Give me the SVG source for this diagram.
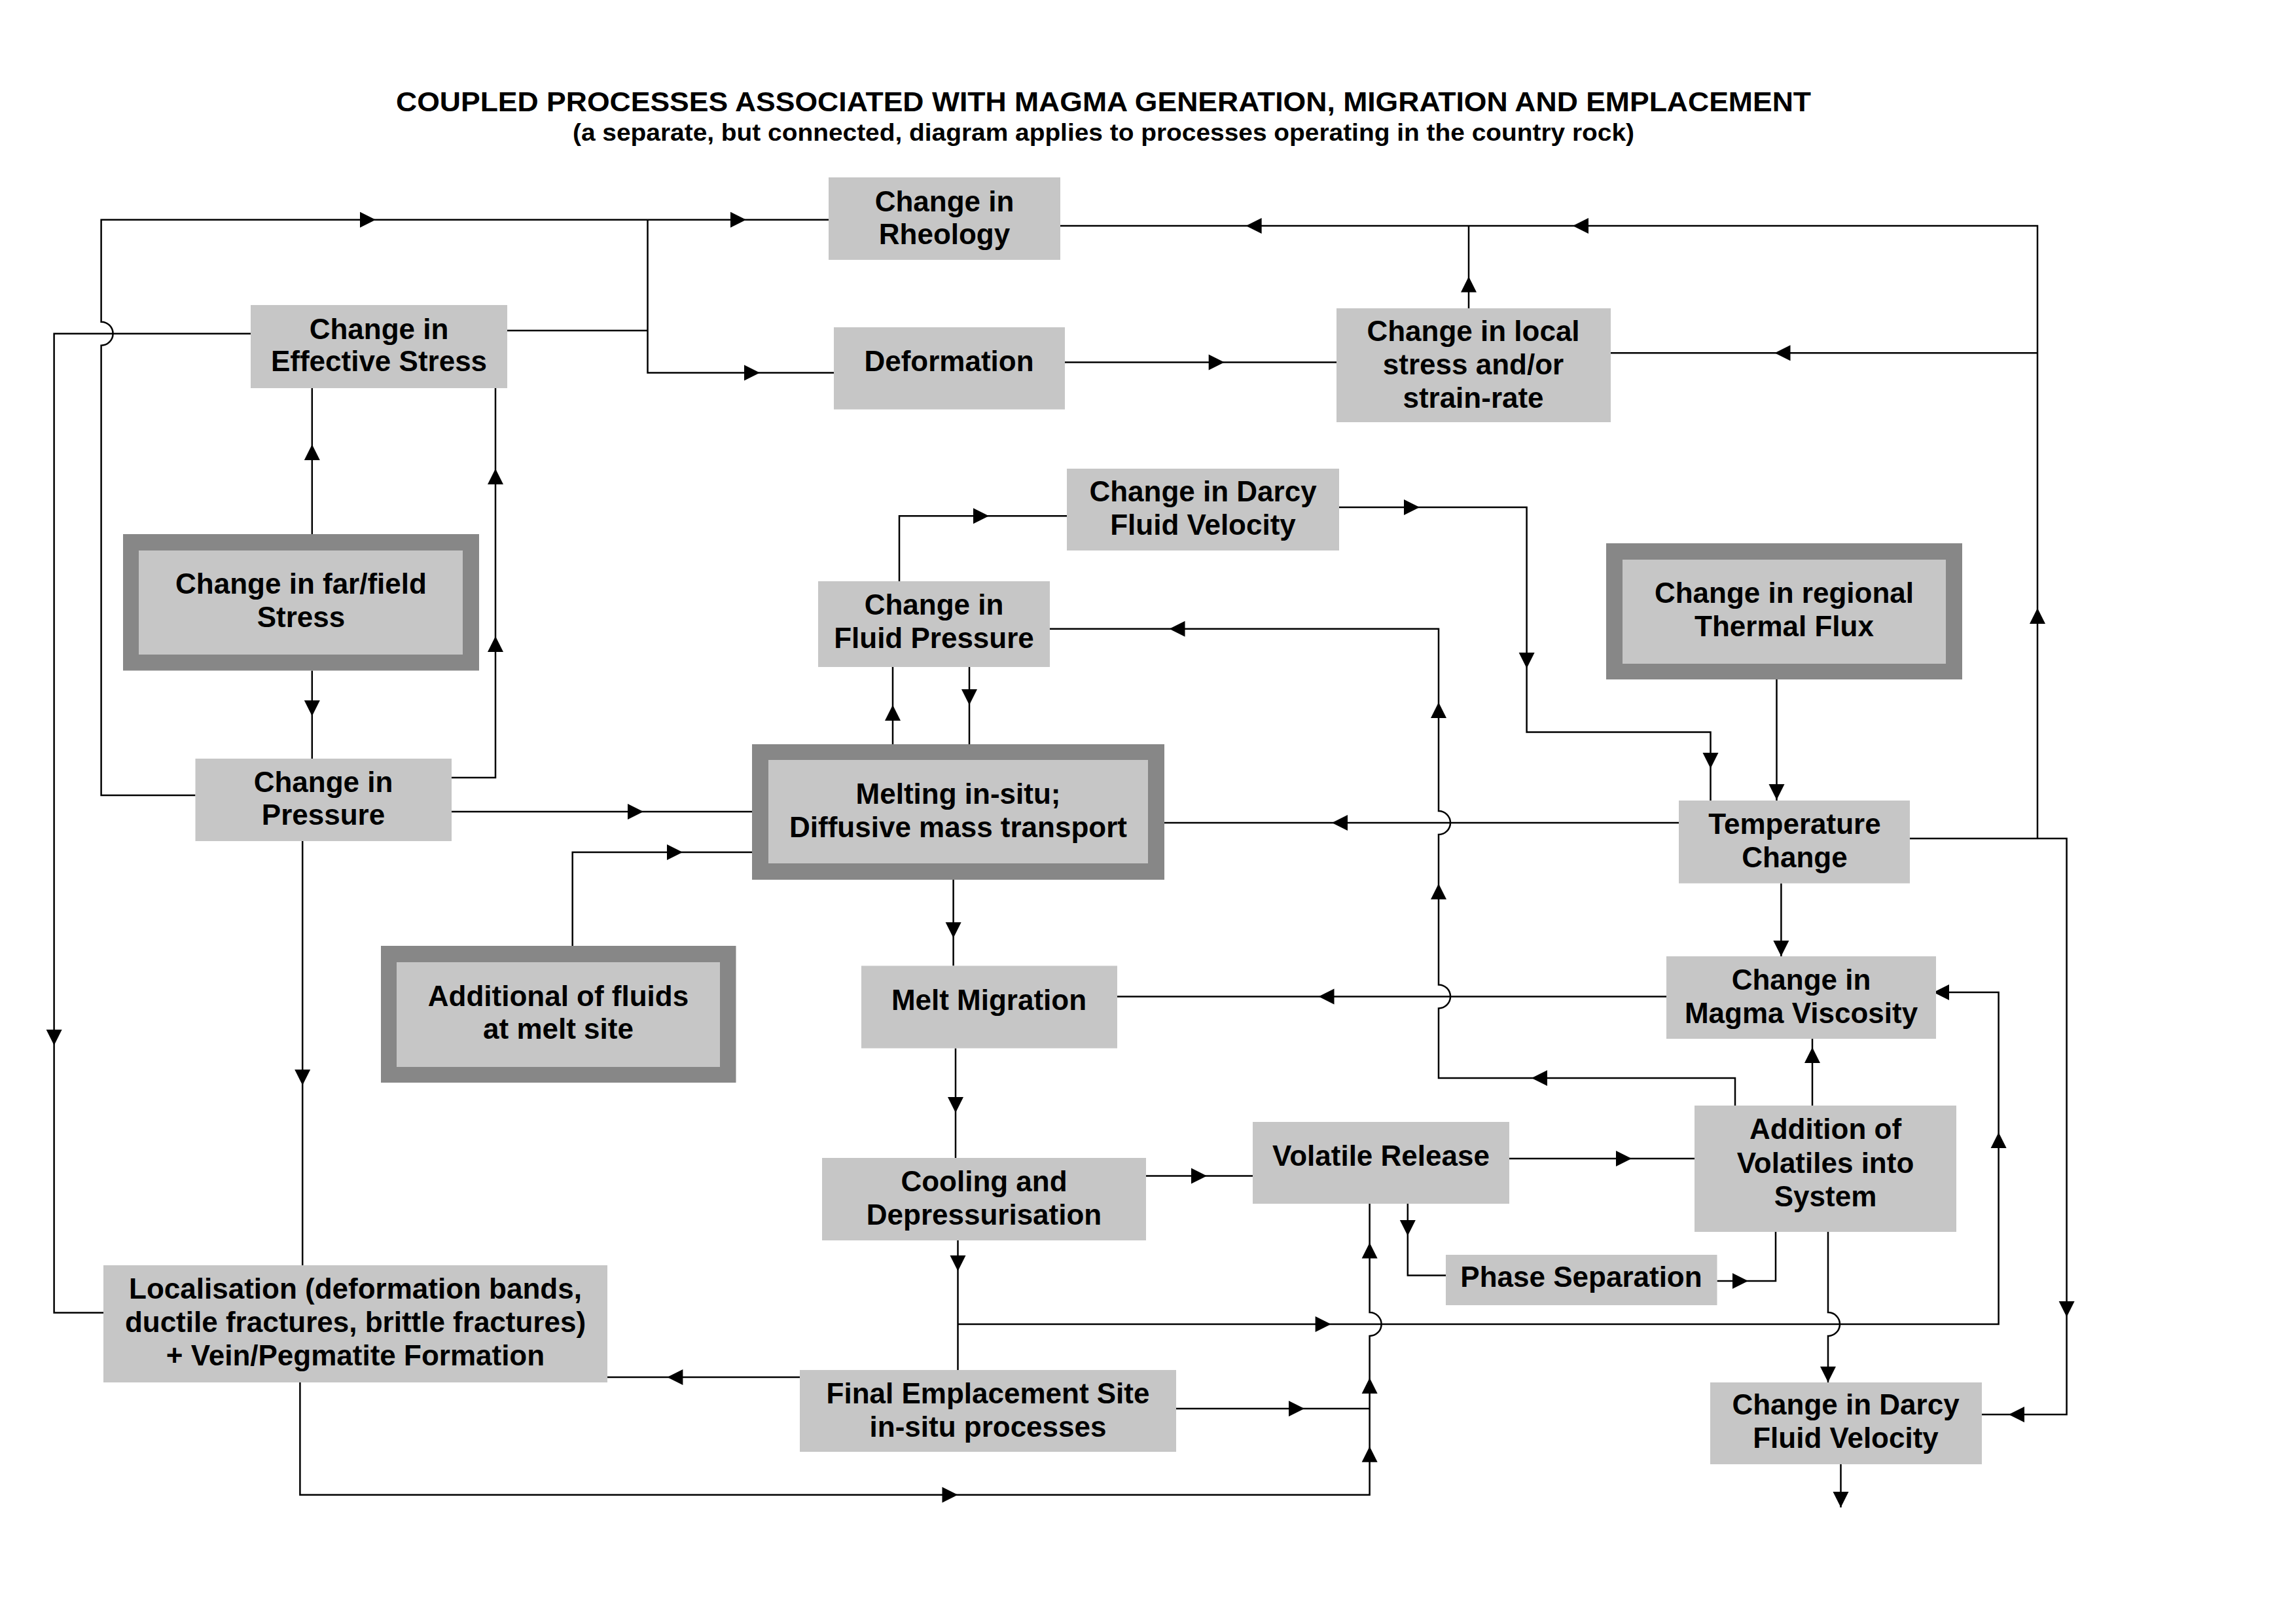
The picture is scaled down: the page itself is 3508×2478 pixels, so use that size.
<svg xmlns="http://www.w3.org/2000/svg" width="3508" height="2478" viewBox="0 0 3508 2478">
<style>
.box{fill:#c6c6c6}
.frame{fill:#878787}
text{font-family:"Liberation Sans",Arial,Helvetica,sans-serif;font-weight:bold;fill:#000}
.t{font-size:44px;text-anchor:middle}
.w{fill:none;stroke:#000;stroke-width:2.5}
</style>
<defs>
<path id="ah" d="M0,0 L-24,-12 L-24,12 Z" fill="#000"/>
</defs>
<rect x="0" y="0" width="3508" height="2478" fill="#fff"/>
<g id="title">
<text x="1686" y="170" font-size="42" text-anchor="middle" textLength="2162" lengthAdjust="spacingAndGlyphs">COUPLED PROCESSES ASSOCIATED WITH MAGMA GENERATION, MIGRATION AND EMPLACEMENT</text>
<text x="1686" y="215" font-size="36" text-anchor="middle" textLength="1622" lengthAdjust="spacingAndGlyphs">(a separate, but connected, diagram applies to processes operating in the country rock)</text>
</g>
<g id="connectors">
<path class="w" d="M298.5,1215 H154.6 V527.7 A18 18 0 0 0 154.6,491.7 V335.7 H1266"/>
<path class="w" d="M775,505 H989.5 M989.5,335.7 V569.4 H1274"/>
<path class="w" d="M383,509.7 H82.6 V2005.6 H158.4"/>
<path class="w" d="M476.8,816 V593"/>
<path class="w" d="M476.8,1024.5 V1159"/>
<path class="w" d="M690,1188 H757 V593"/>
<path class="w" d="M690,1240 H1149.5"/>
<path class="w" d="M874.7,1445 V1302 H1149.5"/>
<path class="w" d="M462.2,1285 V1933"/>
<path class="w" d="M1620,345 H3113 V1281 M2461,539.3 H3113 M2918,1281 H3157.6 V2161 H3028"/>
<path class="w" d="M2244,471 V345"/>
<path class="w" d="M1627,553.6 H2042"/>
<path class="w" d="M1374,888 V788.3 H1630"/>
<path class="w" d="M2046,775 H2332.6 V1118.4 H2613.5 V1223"/>
<path class="w" d="M2714.5,1038 V1223"/>
<path class="w" d="M2565,1257 H1779"/>
<path class="w" d="M2721.4,1349.5 V1461"/>
<path class="w" d="M2546,1522.4 H1707"/>
<path class="w" d="M2651,1689 V1647 H2198 V1540.4 A18 18 0 0 0 2198,1504.4 V1275 A18 18 0 0 0 2198,1239 V960.7 H1604"/>
<path class="w" d="M1364,1137 V1019 M1481,1019 V1137"/>
<path class="w" d="M1456.6,1344 V1475.5"/>
<path class="w" d="M1460,1601.5 V1769"/>
<path class="w" d="M1751,1796.4 H1914"/>
<path class="w" d="M1463.5,1895 V2093 M1463.5,2023 H3053.6 V1516 H2958"/>
<path class="w" d="M1222,2104 H928"/>
<path class="w" d="M1797,2152 H2092.6"/>
<path class="w" d="M458.4,2112 V2283.7 H2092.6 V2041 A18 18 0 0 0 2092.6,2005 V1839"/>
<path class="w" d="M2150.8,1839 V1948.5 H2209"/>
<path class="w" d="M2306,1770 H2589"/>
<path class="w" d="M2623.5,1957 H2713 V1882"/>
<path class="w" d="M2769,1689 V1587"/>
<path class="w" d="M2793,1882 V2005 A18 18 0 0 1 2793,2041 V2112"/>
<path class="w" d="M2812.5,2237 V2303"/>
<use href="#ah" transform="translate(574,335.7)"/>
<use href="#ah" transform="translate(1140,335.7)"/>
<use href="#ah" transform="translate(1161,569.4)"/>
<use href="#ah" transform="translate(82.6,1597) rotate(90)"/>
<use href="#ah" transform="translate(476.8,679) rotate(-90)"/>
<use href="#ah" transform="translate(476.8,1094) rotate(90)"/>
<use href="#ah" transform="translate(757,972) rotate(-90)"/>
<use href="#ah" transform="translate(757,716) rotate(-90)"/>
<use href="#ah" transform="translate(983,1240)"/>
<use href="#ah" transform="translate(1043,1302)"/>
<use href="#ah" transform="translate(462.2,1658) rotate(90)"/>
<use href="#ah" transform="translate(1903.6,345) rotate(180)"/>
<use href="#ah" transform="translate(2403,345) rotate(180)"/>
<use href="#ah" transform="translate(3113,929) rotate(-90)"/>
<use href="#ah" transform="translate(2711.5,539.3) rotate(180)"/>
<use href="#ah" transform="translate(3157.6,2012) rotate(90)"/>
<use href="#ah" transform="translate(3069,2161) rotate(180)"/>
<use href="#ah" transform="translate(2244,422.4) rotate(-90)"/>
<use href="#ah" transform="translate(1870.7,553.6)"/>
<use href="#ah" transform="translate(1511,788.3)"/>
<use href="#ah" transform="translate(2169,775)"/>
<use href="#ah" transform="translate(2332.6,1021) rotate(90)"/>
<use href="#ah" transform="translate(2613.5,1174) rotate(90)"/>
<use href="#ah" transform="translate(2714.5,1222) rotate(90)"/>
<use href="#ah" transform="translate(2035,1257) rotate(180)"/>
<use href="#ah" transform="translate(2721.4,1461) rotate(90)"/>
<use href="#ah" transform="translate(2014.5,1522.4) rotate(180)"/>
<use href="#ah" transform="translate(2340,1647) rotate(180)"/>
<use href="#ah" transform="translate(2198,1350) rotate(-90)"/>
<use href="#ah" transform="translate(2198,1073) rotate(-90)"/>
<use href="#ah" transform="translate(1786.5,960.7) rotate(180)"/>
<use href="#ah" transform="translate(1364,1077) rotate(-90)"/>
<use href="#ah" transform="translate(1481,1077) rotate(90)"/>
<use href="#ah" transform="translate(1456.6,1433) rotate(90)"/>
<use href="#ah" transform="translate(1460,1700) rotate(90)"/>
<use href="#ah" transform="translate(1844,1796.4)"/>
<use href="#ah" transform="translate(1463.5,1942) rotate(90)"/>
<use href="#ah" transform="translate(2033.6,2023)"/>
<use href="#ah" transform="translate(3053.6,1730) rotate(-90)"/>
<use href="#ah" transform="translate(2954,1516) rotate(180)"/>
<use href="#ah" transform="translate(1019.4,2104) rotate(180)"/>
<use href="#ah" transform="translate(1993,2152)"/>
<use href="#ah" transform="translate(1463.5,2283.7)"/>
<use href="#ah" transform="translate(2092.6,2209.7) rotate(-90)"/>
<use href="#ah" transform="translate(2092.6,2105) rotate(-90)"/>
<use href="#ah" transform="translate(2092.6,1898.5) rotate(-90)"/>
<use href="#ah" transform="translate(2150.8,1888) rotate(90)"/>
<use href="#ah" transform="translate(2493,1770)"/>
<use href="#ah" transform="translate(2671,1957)"/>
<use href="#ah" transform="translate(2769,1600) rotate(-90)"/>
<use href="#ah" transform="translate(2793,2111.7) rotate(90)"/>
<use href="#ah" transform="translate(2812.5,2303) rotate(90)"/>
</g>
<g id="rheology"><rect class="box" x="1266" y="271" width="354" height="126"/><text class="t" x="1443" y="323">Change in</text><text class="t" x="1443" y="373">Rheology</text></g>
<g id="effective-stress"><rect class="box" x="383" y="466" width="392" height="127"/><text class="t" x="579" y="518">Change in</text><text class="t" x="579" y="567">Effective Stress</text></g>
<g id="deformation"><rect class="box" x="1274" y="500" width="353" height="125.5"/><text class="t" x="1450" y="567">Deformation</text></g>
<g id="local-stress"><rect class="box" x="2042" y="471" width="419" height="174"/><text class="t" x="2251" y="521">Change in local</text><text class="t" x="2251" y="572">stress and/or</text><text class="t" x="2251" y="623">strain-rate</text></g>
<g id="darcy-top"><rect class="box" x="1630" y="716" width="416" height="125"/><text class="t" x="1838" y="766">Change in Darcy</text><text class="t" x="1838" y="817">Fluid Velocity</text></g>
<g id="far-field"><rect class="frame" x="188" y="816" width="544" height="208.5"/><rect class="box" x="212" y="841" width="495" height="159"/><text class="t" x="460" y="907">Change in far/field</text><text class="t" x="460" y="958">Stress</text></g>
<g id="fluid-pressure"><rect class="box" x="1250" y="888" width="354" height="131"/><text class="t" x="1427" y="939">Change in</text><text class="t" x="1427" y="990">Fluid Pressure</text></g>
<g id="thermal-flux"><rect class="frame" x="2454" y="830" width="544" height="208"/><rect class="box" x="2479" y="855" width="494" height="159"/><text class="t" x="2726" y="921">Change in regional</text><text class="t" x="2726" y="972">Thermal Flux</text></g>
<g id="pressure"><rect class="box" x="298.5" y="1159" width="391.5" height="126"/><text class="t" x="494" y="1210">Change in</text><text class="t" x="494" y="1260">Pressure</text></g>
<g id="melting"><rect class="frame" x="1149" y="1137" width="630" height="207"/><rect class="box" x="1174" y="1161" width="580" height="158"/><text class="t" x="1464" y="1228">Melting in-situ;</text><text class="t" x="1464" y="1279">Diffusive mass transport</text></g>
<g id="temperature"><rect class="box" x="2565" y="1223" width="353" height="126.5"/><text class="t" x="2742" y="1274">Temperature</text><text class="t" x="2742" y="1325">Change</text></g>
<g id="additional-fluids"><rect class="frame" x="582" y="1445" width="542.5" height="209"/><rect class="box" x="606" y="1470" width="494" height="160"/><text class="t" x="853" y="1537">Additional of fluids</text><text class="t" x="853" y="1587">at melt site</text></g>
<g id="melt-migration"><rect class="box" x="1316" y="1475.5" width="391" height="126"/><text class="t" x="1511" y="1543">Melt Migration</text></g>
<g id="magma-viscosity"><rect class="box" x="2546" y="1461" width="412" height="126"/><text class="t" x="2752" y="1512">Change in</text><text class="t" x="2752" y="1563">Magma Viscosity</text></g>
<g id="cooling"><rect class="box" x="1256" y="1769" width="495" height="126"/><text class="t" x="1503.5" y="1819.5">Cooling and</text><text class="t" x="1503.5" y="1870.5">Depressurisation</text></g>
<g id="volatile-release"><rect class="box" x="1914" y="1714" width="392" height="125"/><text class="t" x="2110" y="1781">Volatile Release</text></g>
<g id="addition-volatiles"><rect class="box" x="2589" y="1689" width="400" height="193"/><text class="t" x="2789" y="1740">Addition of</text><text class="t" x="2789" y="1792">Volatiles into</text><text class="t" x="2789" y="1843">System</text></g>
<g id="phase-separation"><rect class="box" x="2209" y="1917" width="414.5" height="77"/><text class="t" x="2416" y="1966">Phase Separation</text></g>
<g id="localisation"><rect class="box" x="158" y="1933" width="770" height="179"/><text class="t" x="543" y="1984">Localisation (deformation bands,</text><text class="t" x="543" y="2035">ductile fractures, brittle fractures)</text><text class="t" x="543" y="2086">+ Vein/Pegmatite Formation</text></g>
<g id="final-emplacement"><rect class="box" x="1222" y="2093" width="575" height="125"/><text class="t" x="1509.5" y="2143.5">Final Emplacement Site</text><text class="t" x="1509.5" y="2194.5">in-situ processes</text></g>
<g id="darcy-bottom"><rect class="box" x="2613" y="2112" width="415" height="125"/><text class="t" x="2820" y="2161">Change in Darcy</text><text class="t" x="2820" y="2212">Fluid Velocity</text></g>
</svg>
